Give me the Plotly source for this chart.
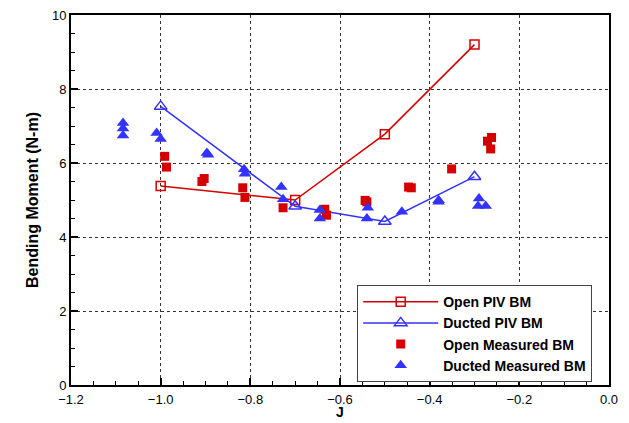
import plotly.graph_objects as go

# PIV bending moment
open_piv_j = [-1.0, -0.7, -0.5, -0.3]
open_piv_bm = [5.38, 5.0, 6.78, 9.2]
ducted_piv_j = [-1.0, -0.7, -0.5, -0.3]
ducted_piv_bm = [7.53, 4.83, 4.42, 5.63]

# Measured bending moment
open_meas_j = [-0.991, -0.987, -0.903, -0.908, -0.817, -0.812, -0.727,
               -0.634, -0.630, -0.544, -0.540, -0.447, -0.441, -0.351,
               -0.262, -0.271, -0.264]
open_meas_bm = [6.18, 5.89, 5.58, 5.50, 5.33, 5.07, 4.79,
                4.75, 4.59, 4.99, 4.95, 5.35, 5.33, 5.84,
                6.69, 6.59, 6.38]
ducted_meas_j = [-1.084, -1.084, -1.084, -1.009, -1.0, -0.897, -0.894,
                 -0.814, -0.812, -0.731, -0.727, -0.645, -0.645,
                 -0.538, -0.540, -0.462, -0.380, -0.380,
                 -0.290, -0.292, -0.275]
ducted_meas_bm = [7.08, 6.93, 6.74, 6.81, 6.65, 6.27, 6.22,
                  5.83, 5.71, 5.35, 5.02, 4.73, 4.50,
                  4.79, 4.50, 4.68, 4.99, 4.95,
                  5.04, 4.84, 4.84]

RED = "#d40000"
BLUE = "#3333ff"
FONT = "Arial, Liberation Sans"

fig = go.Figure()
fig.add_trace(go.Scatter(
    x=open_piv_j, y=open_piv_bm, mode="lines+markers", name="Open PIV BM",
    line=dict(color=RED, width=1.5),
    marker=dict(symbol="square-open", size=9, color=RED, line=dict(width=1.5, color=RED))))
fig.add_trace(go.Scatter(
    x=ducted_piv_j, y=ducted_piv_bm, mode="lines+markers", name="Ducted PIV BM",
    line=dict(color=BLUE, width=1.5),
    marker=dict(symbol="triangle-up-open", size=11, color=BLUE, line=dict(width=1.5, color=BLUE))))
fig.add_trace(go.Scatter(
    x=open_meas_j, y=open_meas_bm, mode="markers", name="Open Measured BM",
    marker=dict(symbol="square", size=9, color=RED)))
fig.add_trace(go.Scatter(
    x=ducted_meas_j, y=ducted_meas_bm, mode="markers", name="Ducted Measured BM",
    marker=dict(symbol="triangle-up", size=11, color=BLUE)))

axis_common = dict(
    showline=True, linecolor="black", linewidth=2, mirror=True,
    ticks="inside", ticklen=7, tickwidth=1.5, tickcolor="black",
    showgrid=True, gridcolor="#333333", griddash="dot", gridwidth=1,
    zeroline=False, automargin=False,
    tickfont=dict(family=FONT, size=13, color="black"),
    minor=dict(ticks="inside", ticklen=4, tickwidth=1, tickcolor="black", showgrid=False),
)

fig.update_xaxes(range=[-1.2, 0.0], dtick=0.2, tickformat=".1f",
                 minor_dtick=0.05, ticklabelstandoff=1,
                 **axis_common)
fig.update_yaxes(range=[0, 10], dtick=2, minor_dtick=0.5,
                 title=dict(text="<b>Bending Moment (N-m)</b>", font=dict(family=FONT, size=16, color="black"), standoff=9),
                 **axis_common)

fig.add_annotation(text="<b>J</b>", xref="paper", yref="paper", x=0.5, y=-0.1,
                   xanchor="center", yanchor="bottom", showarrow=False,
                   font=dict(family=FONT, size=14, color="black"))

fig.update_layout(
    width=629, height=423,
    margin=dict(l=71, r=20, t=15, b=38),
    plot_bgcolor="white", paper_bgcolor="white",
    font=dict(family=FONT, color="black"),
    legend=dict(
        x=0.532, y=0.27, xanchor="left", yanchor="top",
        bgcolor="white", bordercolor="#444444", borderwidth=1,
        font=dict(family=FONT, size=14, color="black", weight="bold"),
        tracegroupgap=0, itemwidth=75,
    ),
)

fig.write_html("out.html")
